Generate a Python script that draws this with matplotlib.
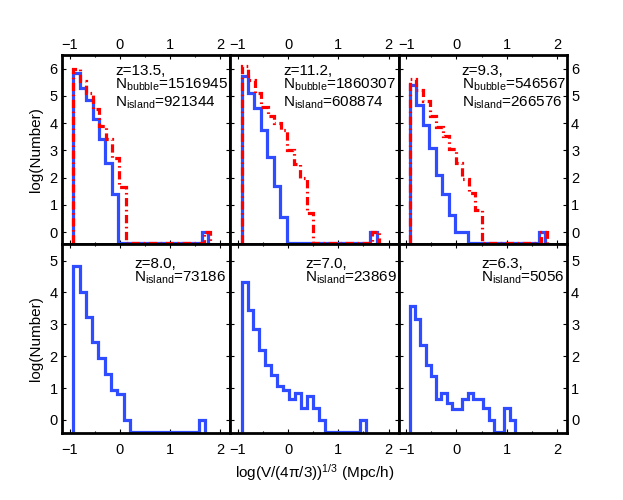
import matplotlib.pyplot as plt
import numpy as np
from matplotlib.ticker import MultipleLocator

plt.rcParams['font.family'] = ['Liberation Sans', 'DejaVu Sans']
plt.rcParams['mathtext.fontset'] = 'custom'
plt.rcParams['mathtext.rm'] = 'Liberation Sans'
plt.rcParams['mathtext.it'] = 'Liberation Sans:italic'

nan = np.nan

# panel labels
redshifts = ['13.5', '11.2', '9.3', '8.0', '7.0', '6.3']
n_bubble = [1516945, 1860307, 546567, None, None, None]
n_island = [921344, 608874, 266576, 73186, 23869, 5056]

# histogram bins in log(R) (Mpc/h)
bin_start = -0.925
island_width = [0.128, 0.128, 0.128, 0.125, 0.118, 0.1045]
bubble_width = 0.130

# log(Number) per bin, nan = empty bin
island_z135 = [5.84, 5.29, 4.83, 4.15, 3.41, 2.55, 1.40, nan, nan, nan, nan,
               nan, nan, nan, nan, nan, nan, nan, nan, nan, 0.0]
island_z112 = [5.72, 5.10, 4.55, 3.75, 2.77, 1.70, 0.54, nan, nan, nan, nan,
               nan, nan, nan, nan, nan, nan, nan, nan, nan, 0.0]
island_z93 = [5.39, 4.65, 3.94, 3.08, 2.10, 1.39, 0.63, 0.0, 0.0, nan, nan,
              nan, nan, nan, nan, nan, nan, nan, nan, nan, 0.0]
island_z80 = [4.82, 4.01, 3.23, 2.46, 1.94, 1.44, 0.94, 0.82, 0.0, nan, nan,
              nan, nan, nan, nan, nan, nan, nan, nan, nan, 0.0]
island_z70 = [4.33, 3.46, 2.85, 2.20, 1.73, 1.42, 1.08, 0.94, 0.65, 0.84, 0.37,
              0.75, 0.37, 0.0, nan, nan, nan, nan, nan, nan, 0.0]
island_z63 = [3.56, 3.18, 2.36, 1.71, 1.38, 0.66, 0.84, 0.52, 0.34, 0.34, 0.65,
              0.84, 0.65, 0.65, 0.37, 0.0, nan, nan, 0.37, 0.0]

bubble_z135 = [5.98, 5.55, 5.10, 4.50, 3.90, 3.40, 2.70, 1.65, nan, nan, nan,
               nan, nan, nan, nan, nan, nan, nan, nan, nan, 0.0]
bubble_z112 = [6.10, 5.60, 5.10, 4.60, 4.25, 4.00, 3.75, 3.00, 2.50, 2.00, 0.70,
               nan, nan, nan, nan, nan, nan, nan, nan, nan, 0.0]
bubble_z93 = [5.63, 5.23, 4.80, 4.25, 3.85, 3.51, 3.05, 2.55, 1.95, 1.42, 0.81,
              nan, nan, nan, nan, nan, nan, nan, nan, nan, 0.0]

islands = [island_z135, island_z112, island_z93, island_z80, island_z70, island_z63]
bubbles = [bubble_z135, bubble_z112, bubble_z93, None, None, None]

blue = '#2f4dff'
red = '#ff0000'

fig, axes = plt.subplots(2, 3, figsize=(6.23, 5), dpi=100)
fig.subplots_adjust(left=0.0995, right=0.910, top=0.89, bottom=0.134,
                    wspace=0, hspace=0)

ylims = [(-0.44, 6.5), (-0.41, 5.52)]
floors = [-0.40, -0.37]


def draw_hist(ax, vals, width, floor, **kw):
    v = np.array(vals, dtype=float)
    v = np.where(np.isnan(v), floor, v)
    edges = bin_start + width * np.arange(len(v) + 1)
    ax.stairs(v, edges, baseline=floor, **kw)


for i, ax in enumerate(axes.flat):
    row, col = divmod(i, 3)
    floor = floors[row]
    draw_hist(ax, islands[i], island_width[i], floor, color=blue, lw=2.3, zorder=2)
    if bubbles[i] is not None:
        draw_hist(ax, bubbles[i], bubble_width, floor, color=red, lw=2.3,
                  linestyle=(0, (2.6, 1.1, 0.5, 1.1)), zorder=3)

    ax.set_xlim(-1.15, 2.2)
    ax.set_ylim(*ylims[row])
    ax.set_xticks([-1, 0, 1, 2])
    ax.xaxis.set_minor_locator(MultipleLocator(0.5))
    ax.set_yticks(range(0, 7 if row == 0 else 6))
    ax.tick_params(which='both', direction='in', top=True, bottom=True,
                   left=True, right=True, labelsize=10.5, width=0.8)
    ax.tick_params(which='major', length=3)
    ax.tick_params(which='minor', length=1.5)
    ax.tick_params(axis='x', labeltop=(row == 0), labelbottom=(row == 1),
                   pad=2 if row == 0 else 7)
    ax.tick_params(axis='y', labelleft=(col == 0), labelright=(col == 2), pad=3)
    for s in ax.spines.values():
        s.set_linewidth(2)

    # annotations
    fs = 11
    if row == 0:
        xpos = [0.315, 0.313, 0.374][col]
        ax.text(xpos, 0.896, f'z={redshifts[i]},', transform=ax.transAxes,
                fontsize=fs, va='baseline')
        ax.text(xpos, 0.823, r'N$_{\rm bubble}$=' + str(n_bubble[i]),
                transform=ax.transAxes, fontsize=fs, va='baseline', clip_on=False)
        ax.text(xpos, 0.728, r'N$_{\rm island}$=' + str(n_island[i]),
                transform=ax.transAxes, fontsize=fs, va='baseline')
    else:
        xpos = [0.428, 0.445, 0.49][col]
        ax.text(xpos, 0.874, f'z={redshifts[i]},', transform=ax.transAxes,
                fontsize=fs, va='baseline')
        ax.text(xpos, 0.802, r'N$_{\rm island}$=' + str(n_island[i]),
                transform=ax.transAxes, fontsize=fs, va='baseline')

for row in range(2):
    axes[row, 0].set_ylabel('log(Number)', fontsize=11, labelpad=5)

fig.text(0.505, 1 - 473 / 500, r'log(V/(4π/3))$^{1/3}$ (Mpc/h)', ha='center',
         va='center', fontsize=11)

plt.savefig('out.png', dpi=100, facecolor='white')
